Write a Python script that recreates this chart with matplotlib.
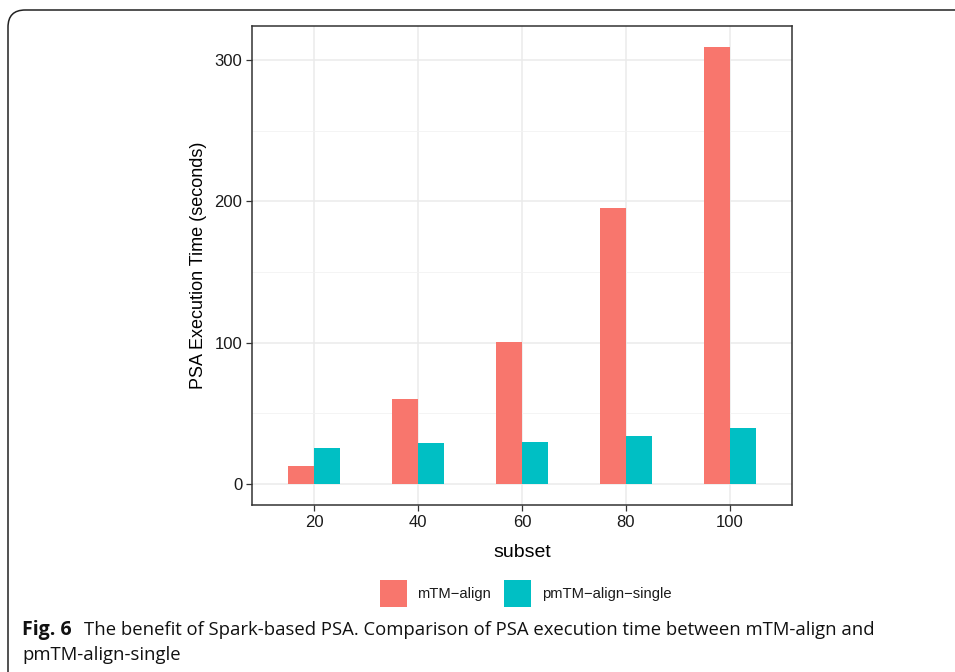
import numpy as np
import matplotlib
matplotlib.use("Agg")
import matplotlib.pyplot as plt
from matplotlib.patches import FancyBboxPatch, Rectangle

# data
subsets = ["20", "40", "60", "80", "100"]
mtm_align = [12.5, 60, 100.5, 195.5, 309]
pmtm_single = [25.5, 29, 29.5, 34, 39.5]
series_names = ["mTM\u2212align", "pmTM\u2212align\u2212single"]
colors = ["#F8766D", "#00BFC4"]

W, H = 955, 672
fig = plt.figure(figsize=(W / 100, H / 100), dpi=100)

# outer caption frame with rounded top-left corner
frame = FancyBboxPatch((8 / W, -0.2), 1.2, (H - 10) / H + 0.2,
                       boxstyle="round,pad=0,rounding_size=0.018",
                       transform=fig.transFigure, fill=False,
                       edgecolor="#222222", linewidth=1.1, mutation_aspect=W / H)
fig.patches.append(frame)

ax = fig.add_axes([252 / W, 1 - 505 / H, 540 / W, 479 / H])
x = np.arange(len(subsets))
bw = 0.25
ax.bar(x - bw / 2, mtm_align, width=bw, color=colors[0], zorder=3)
ax.bar(x + bw / 2, pmtm_single, width=bw, color=colors[1], zorder=3)

ax.set_xlim(-0.6, 4.6)
ax.set_ylim(-15, 324)
ax.set_xticks(x)
ax.set_xticklabels(subsets)
ax.set_yticks([0, 100, 200, 300])
ax.set_yticks([50, 150, 250], minor=True)
ax.grid(True, which="major", color="#EBEBEB", linewidth=1.1, zorder=0)
ax.grid(True, which="minor", axis="y", color="#F2F2F2", linewidth=0.6, zorder=0)
ax.tick_params(which="minor", length=0)
ax.tick_params(which="major", length=4, width=0.9, color="#333333",
               labelsize=12, labelcolor="#1a1a1a", pad=3)
for s in ax.spines.values():
    s.set_color("#333333")
    s.set_linewidth(1.1)
for lab in ax.get_xticklabels() + ax.get_yticklabels():
    lab.set_family("Liberation Sans")

ax.set_xlabel("subset", fontsize=14, family="Liberation Sans", labelpad=10)
ax.set_ylabel("PSA Execution Time (seconds)", fontsize=13, family="Liberation Sans", labelpad=5)

# legend drawn below the plot
for name, c, kx, tx in zip(series_names, colors, [380, 504], [417, 542]):
    fig.patches.append(Rectangle((kx / W, 1 - 607 / H), 27 / W, 27 / H,
                                 transform=fig.transFigure, facecolor=c, edgecolor="none"))
    fig.text(tx / W, 1 - 594 / H, name, fontsize=10.6, family="Liberation Sans",
             va="center", ha="left", color="#1a1a1a")

# caption
fig.text(22 / W, 1 - 630 / H, "Fig. 6", fontsize=14, fontweight="bold",
         family="Open Sans", va="center", ha="left", color="#111111")
fig.text(84 / W, 1 - 630 / H,
         "The benefit of Spark-based PSA. Comparison of PSA execution time between mTM-align and",
         fontsize=13.3, family="Open Sans", va="center", ha="left", color="#111111")
fig.text(22 / W, 1 - 655 / H, "pmTM-align-single", fontsize=13.3, family="Open Sans",
         va="center", ha="left", color="#111111")

fig.savefig("out.png", dpi=100)
